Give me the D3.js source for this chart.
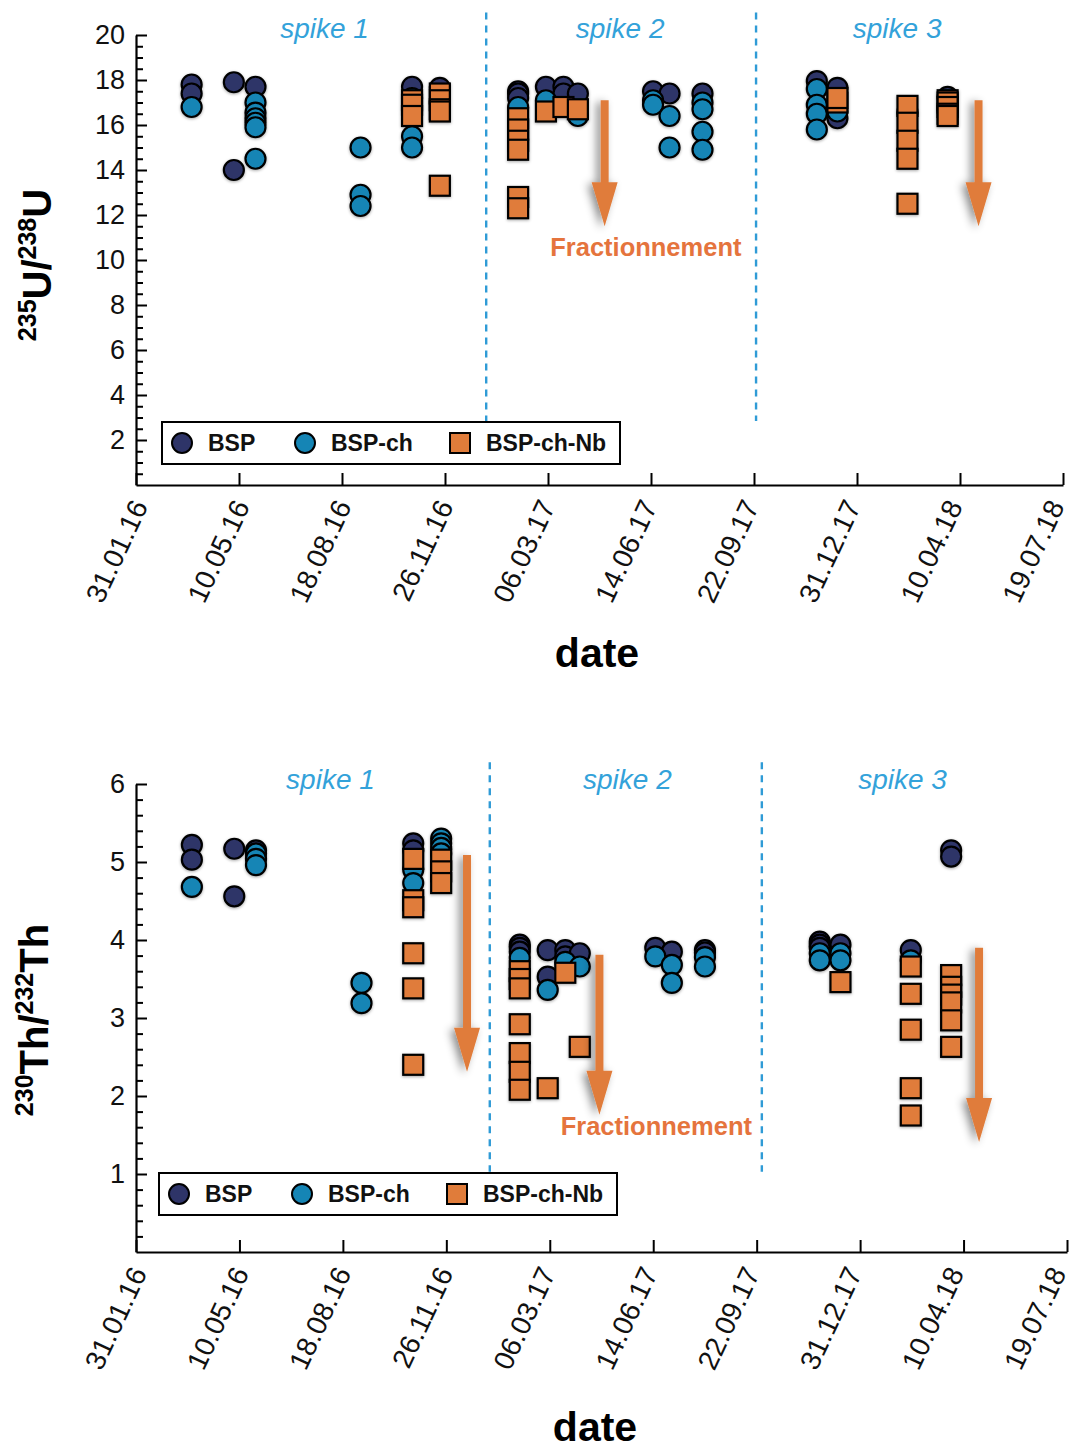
<!DOCTYPE html>
<html><head><meta charset="utf-8">
<script src="https://cdn.jsdelivr.net/npm/d3@7"></script>
<style>
body{margin:0;background:#fff}
svg{display:block}
text{font-family:"Liberation Sans",Arial,Helvetica,sans-serif}
</style>
</head><body>
<svg id="c" width="1071" height="1449"></svg>
<script>
// ---------- DATA ----------
const groupDates = ["2016-03-25","2016-05-05","2016-05-26","2016-09-05","2016-10-25","2016-11-21",
  "2017-02-05","2017-03-04","2017-03-21","2017-04-04","2017-06-16","2017-07-02","2017-08-03",
  "2017-11-22","2017-12-12","2018-02-18","2018-03-29"];
const xTickLabels = ["31.01.16","10.05.16","18.08.16","26.11.16","06.03.17","14.06.17","22.09.17","31.12.17","10.04.18","19.07.18"];
const seriesNames = ["BSP","BSP-ch","BSP-ch-Nb"];
const seriesColors = ["#2e3468","#1585b5","#e07c3a"];

// 235U/238U  (one list of values per date group)
const uBSP = [[17.8,17.4],[17.9,14.0],[17.7],[],[17.7],[17.65],[17.5,17.4,17.2],[17.7],[17.7,17.4],[17.4],[17.5],[17.4],[17.4],[17.95],[17.65,16.3],[16.6],[17.25]];
const uCH  = [[16.8],[],[17.0,16.55,16.3,16.1,15.9,14.5],[15.0,12.9,12.4],[17.2,15.5,15.0],[],[16.8],[17.1],[],[16.4],[17.1,16.9],[16.4,15.0],[17.0,16.7,15.7,14.9],[17.6,16.9,16.5,15.8],[16.6],[],[]];
const uNb  = [[],[],[],[],[17.1,16.9,16.4],[17.4,17.1,16.7,16.6,13.3],[16.3,15.8,15.3,14.9,12.8,12.3],[16.6],[16.8],[16.7],[],[],[],[],[17.0,17.2],[16.85,16.1,15.3,14.5,12.5],[17.1,17.0,16.8,16.5,16.4]];

// 230Th/232Th
const thBSP = [[5.22,5.03],[5.17,4.56],[5.15],[],[5.24,5.15],[],[3.94,3.9,3.85],[3.87,3.53],[3.87,3.79],[3.83],[3.9],[3.85],[3.87,3.84],[3.98,3.94,3.9],[3.94],[3.87],[5.15,5.07]];
const thCH  = [[4.68],[],[5.11,5.04,4.96],[3.45,3.19],[4.9,4.73],[5.3,5.24,5.18,5.11],[3.77],[3.36],[3.72],[3.66],[3.79],[3.68,3.45],[3.78,3.66],[3.83,3.74],[3.83,3.74],[3.74],[]];
const thNb  = [[],[],[],[],[5.04,4.51,4.42,3.83,3.38,2.40],[5.03,4.88,4.73],[3.6,3.5,3.38,2.92,2.55,2.31,2.08],[2.10],[3.58],[2.63],[],[],[],[],[3.46],[3.66,3.31,2.85,2.10,1.75],[3.55,3.40,3.30,3.20,2.97,2.63]];

// annotations
const spikeLabels = ["spike 1","spike 2","spike 3"];
const spikeLabelDatesU = ["2016-08-01","2017-05-15","2018-02-08"];
const spikeLabelDatesTh = ["2016-08-06","2017-05-20","2018-02-10"];
const spikeBoundariesU = ["2017-01-05","2017-09-24"];
const spikeBoundariesTh = ["2017-01-07","2017-09-27"];
const uArrows  = [{date:"2017-04-30", from:17.1, to:11.5},{date:"2018-04-28", from:17.1, to:11.5}];
const thArrows = [{date:"2016-12-16", from:5.09, to:2.31},{date:"2017-04-23", from:3.81, to:1.76},{date:"2018-04-25", from:3.9, to:1.41}];
const fracLabel = "Fractionnement";

// ---------- DRAW ----------
const svg = d3.select("#c");
const pd = d3.timeParse("%Y-%m-%d");
const pl = d3.timeParse("%d.%m.%y");
const defs = svg.append("defs");
const f1 = defs.append("filter").attr("id","mshadow").attr("x","-50%").attr("y","-50%").attr("width","200%").attr("height","200%");
f1.append("feDropShadow").attr("dx",0).attr("dy",1).attr("stdDeviation",1.6).attr("flood-color","#000").attr("flood-opacity",0.35);
const f2 = defs.append("filter").attr("id","ashadow").attr("x","-100%").attr("y","-20%").attr("width","300%").attr("height","140%");
f2.append("feDropShadow").attr("dx",-4).attr("dy",2).attr("stdDeviation",4).attr("flood-color","#000").attr("flood-opacity",0.45);

function flatten(vals){
  const out=[];
  groupDates.forEach((d,i)=>vals[i].forEach(v=>out.push({date:pd(d),v})));
  return out;
}

function panel(cfg){
  const g = svg.append("g");
  const x = d3.scaleTime().domain([pl(xTickLabels[0]), pl(xTickLabels[xTickLabels.length-1])]).range([cfg.x0,cfg.x1]);
  const y = d3.scaleLinear().domain([0,cfg.ymax]).range([cfg.yb,cfg.yt]);

  // minor y ticks
  const minors = d3.range(cfg.minor, cfg.ymax, cfg.minor).filter(v=>Math.abs(v/cfg.major-Math.round(v/cfg.major))>1e-6);
  g.append("g").attr("transform",`translate(${cfg.x0},0)`)
    .call(d3.axisLeft(y).tickValues(minors).tickSizeInner(-7).tickSizeOuter(0).tickFormat(""))
    .call(s=>s.select(".domain").remove())
    .call(s=>s.selectAll("line").attr("stroke","#000").attr("stroke-width",2));
  // major y ticks
  g.append("g").attr("transform",`translate(${cfg.x0},0)`)
    .call(d3.axisLeft(y).tickValues(cfg.ticks).tickSizeInner(-11).tickSizeOuter(0).tickPadding(11).tickFormat(d3.format("d")))
    .call(s=>s.select(".domain").attr("stroke","#000").attr("stroke-width",2.2))
    .call(s=>s.selectAll("line").attr("stroke","#000").attr("stroke-width",2))
    .call(s=>s.selectAll("text").attr("font-size",27).attr("fill","#111").attr("font-family","Liberation Sans, Arial, sans-serif"));
  // x axis
  g.append("g").attr("transform",`translate(0,${cfg.yb})`)
    .call(d3.axisBottom(x).tickValues(xTickLabels.map(pl)).tickSizeInner(-12).tickSizeOuter(0).tickFormat(d3.timeFormat("%d.%m.%y")))
    .call(s=>s.select(".domain").attr("stroke","#000").attr("stroke-width",2.2))
    .call(s=>s.selectAll("line").attr("stroke","#000").attr("stroke-width",2))
    .call(s=>s.selectAll("text").attr("font-size",28).attr("fill","#111").attr("font-family","Liberation Sans, Arial, sans-serif")
      .attr("text-anchor","end").attr("x",0).attr("y",0).attr("dy",0)
      .attr("transform",(d,i)=>`translate(${cfg.lab0-i*cfg.labStep},21) rotate(-65)`));

  // dashed spike boundaries
  g.selectAll(".sb").data(cfg.bounds).join("line")
    .attr("x1",d=>x(pd(d))).attr("x2",d=>x(pd(d)))
    .attr("y1",y(cfg.lineTop)).attr("y2",y(cfg.lineBot))
    .attr("stroke","#2f9bd6").attr("stroke-width",2.4).attr("stroke-dasharray","7,6");
  // spike labels
  g.selectAll(".sl").data(spikeLabels).join("text")
    .attr("x",(d,i)=>x(pd(cfg.spikeDates[i]))).attr("y",y(cfg.spikeY))
    .attr("text-anchor","middle").attr("font-size",28).attr("font-style","italic")
    .attr("fill","#33a2da").text(d=>d);

  // markers
  const mg = g.append("g").attr("filter","url(#mshadow)");
  const r = 10;
  [cfg.s0,cfg.s1].forEach((vals,si)=>{
    mg.append("g").selectAll("circle").data(flatten(vals)).join("circle")
      .attr("cx",d=>x(d.date)).attr("cy",d=>y(d.v)).attr("r",r)
      .attr("fill",seriesColors[si]).attr("stroke","#000").attr("stroke-width",2.2);
  });
  mg.append("g").selectAll("rect").data(flatten(cfg.s2)).join("rect")
    .attr("x",d=>x(d.date)-r).attr("y",d=>y(d.v)-r).attr("width",2*r).attr("height",2*r)
    .attr("fill",seriesColors[2]).attr("stroke","#000").attr("stroke-width",2.2);

  // arrows
  const ag = g.append("g").attr("filter","url(#ashadow)");
  cfg.arrows.forEach(a=>{
    const ax = x(pd(a.date)), y1 = y(a.from), y2 = y(a.to), hl = 44, hw = 13, sw = 4;
    ag.append("path")
      .attr("d",`M${ax-sw},${y1} L${ax+sw},${y1} L${ax+sw},${y2-hl} L${ax+hw},${y2-hl} L${ax},${y2} L${ax-hw},${y2-hl} L${ax-sw},${y2-hl} Z`)
      .attr("fill","#e07c3a");
  });
  g.append("text").attr("x",x(pd(cfg.fracDate))).attr("y",y(cfg.fracY))
    .attr("text-anchor","middle").attr("font-size",25.5).attr("font-weight","bold")
    .attr("fill","#e5743d").text(fracLabel);

  // legend
  const lg = g.append("g").attr("transform",`translate(${cfg.legX},${cfg.legY})`);
  lg.append("rect").attr("width",458).attr("height",42).attr("fill","#fff").attr("stroke","#000").attr("stroke-width",2);
  const itemX = [20,143,298];
  seriesNames.forEach((n,i)=>{
    if(i<2) lg.append("circle").attr("cx",itemX[i]).attr("cy",21).attr("r",10).attr("fill",seriesColors[i]).attr("stroke","#000").attr("stroke-width",2);
    else lg.append("rect").attr("x",itemX[i]-10).attr("y",11).attr("width",20).attr("height",20).attr("fill",seriesColors[i]).attr("stroke","#000").attr("stroke-width",2);
    lg.append("text").attr("x",itemX[i]+26).attr("y",29).attr("font-size",23).attr("font-weight","bold").attr("fill","#111").text(n);
  });

  // axis titles
  g.append("text").attr("x",cfg.dateX).attr("y",cfg.dateY).attr("text-anchor","middle")
    .attr("font-size",41).attr("font-weight","bold").attr("fill","#000").text("date");
  const yt = g.append("text").attr("transform",`translate(${cfg.ylabX},${cfg.ylabY}) rotate(-90)`)
    .attr("text-anchor","middle").attr("font-weight","bold").attr("fill","#000");
  cfg.ylab.forEach(p=>{
    yt.append("tspan").attr("font-size",p.sup?25:40).attr("dy",p.dy).text(p.t);
  });
}

panel({x0:136,x1:1063,yt:35,yb:485,ymax:20,ticks:[2,4,6,8,10,12,14,16,18,20],major:2,minor:0.5,lab0:12,labStep:1.15,
  s0:uBSP,s1:uCH,s2:uNb,bounds:spikeBoundariesU,lineTop:21.0,lineBot:2.85,spikeDates:spikeLabelDatesU,spikeY:19.85,
  arrows:uArrows,fracDate:"2017-06-09",fracY:10.2,legX:162,legY:422,dateX:597,dateY:667,ylabX:51,ylabY:265,
  ylab:[{t:"235",sup:true,dy:-15},{t:"U/",dy:15},{t:"238",sup:true,dy:-15},{t:"U",dy:15}]});

panel({x0:136,x1:1067,yt:784,yb:1252,ymax:6,ticks:[1,2,3,4,5,6],major:1,minor:0.2,lab0:11,labStep:1.3,
  s0:thBSP,s1:thCH,s2:thNb,bounds:spikeBoundariesTh,lineTop:6.28,lineBot:1.03,spikeDates:spikeLabelDatesTh,spikeY:5.94,
  arrows:thArrows,fracDate:"2017-06-17",fracY:1.5,legX:159,legY:1173,dateX:595,dateY:1441,ylabX:48,ylabY:1020,
  ylab:[{t:"230",sup:true,dy:-15},{t:"Th/",dy:15},{t:"232",sup:true,dy:-15},{t:"Th",dy:15}]});
</script>
</body></html>
